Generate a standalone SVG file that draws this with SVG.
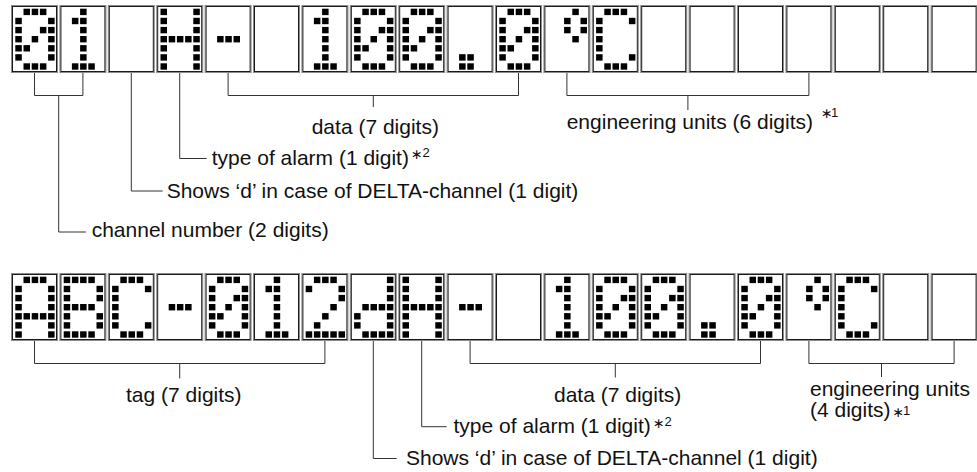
<svg xmlns="http://www.w3.org/2000/svg" xmlns:xlink="http://www.w3.org/1999/xlink" width="977" height="472" viewBox="0 0 977 472">
<style>
text{font-family:"Liberation Sans",Arial,Helvetica,sans-serif;font-size:21px;fill:#111}
.sup{font-size:13px}
.ast{font-family:"DejaVu Sans","Liberation Sans",sans-serif;font-size:14px}
.c{fill:none;stroke:#333;stroke-width:1}
</style>
<defs>
<rect id="p" width="6.5" height="6.4" fill="#000"/>
<g id="frame"><rect x="0.5" y="0.5" width="46" height="67" fill="#fff" stroke="#8c8c8c"/><rect x="1.5" y="1.5" width="44" height="65" fill="none" stroke="#1a1a1a"/></g>
<g id="g0"><use href="#p" x="12.5" y="3.7"/><use href="#p" x="20.7" y="3.7"/><use href="#p" x="28.9" y="3.7"/><use href="#p" x="4.3" y="12.8"/><use href="#p" x="37.1" y="12.8"/><use href="#p" x="4.3" y="21.9"/><use href="#p" x="28.9" y="21.9"/><use href="#p" x="37.1" y="21.9"/><use href="#p" x="4.3" y="31"/><use href="#p" x="20.7" y="31"/><use href="#p" x="37.1" y="31"/><use href="#p" x="4.3" y="40.1"/><use href="#p" x="12.5" y="40.1"/><use href="#p" x="37.1" y="40.1"/><use href="#p" x="4.3" y="49.2"/><use href="#p" x="37.1" y="49.2"/><use href="#p" x="12.5" y="58.3"/><use href="#p" x="20.7" y="58.3"/><use href="#p" x="28.9" y="58.3"/></g>
<g id="g1"><use href="#p" x="20.7" y="3.7"/><use href="#p" x="12.5" y="12.8"/><use href="#p" x="20.7" y="12.8"/><use href="#p" x="20.7" y="21.9"/><use href="#p" x="20.7" y="31"/><use href="#p" x="20.7" y="40.1"/><use href="#p" x="20.7" y="49.2"/><use href="#p" x="12.5" y="58.3"/><use href="#p" x="20.7" y="58.3"/><use href="#p" x="28.9" y="58.3"/></g>
<g id="g2"><use href="#p" x="12.5" y="3.7"/><use href="#p" x="20.7" y="3.7"/><use href="#p" x="28.9" y="3.7"/><use href="#p" x="4.3" y="12.8"/><use href="#p" x="37.1" y="12.8"/><use href="#p" x="37.1" y="21.9"/><use href="#p" x="28.9" y="31"/><use href="#p" x="20.7" y="40.1"/><use href="#p" x="12.5" y="49.2"/><use href="#p" x="4.3" y="58.3"/><use href="#p" x="12.5" y="58.3"/><use href="#p" x="20.7" y="58.3"/><use href="#p" x="28.9" y="58.3"/><use href="#p" x="37.1" y="58.3"/></g>
<g id="gH"><use href="#p" x="4.3" y="3.7"/><use href="#p" x="37.1" y="3.7"/><use href="#p" x="4.3" y="12.8"/><use href="#p" x="37.1" y="12.8"/><use href="#p" x="4.3" y="21.9"/><use href="#p" x="37.1" y="21.9"/><use href="#p" x="4.3" y="31"/><use href="#p" x="12.5" y="31"/><use href="#p" x="20.7" y="31"/><use href="#p" x="28.9" y="31"/><use href="#p" x="37.1" y="31"/><use href="#p" x="4.3" y="40.1"/><use href="#p" x="37.1" y="40.1"/><use href="#p" x="4.3" y="49.2"/><use href="#p" x="37.1" y="49.2"/><use href="#p" x="4.3" y="58.3"/><use href="#p" x="37.1" y="58.3"/></g>
<g id="gm"><use href="#p" x="12.5" y="31"/><use href="#p" x="20.7" y="31"/><use href="#p" x="28.9" y="31"/></g>
<g id="gdot"><use href="#p" x="12.5" y="49.2"/><use href="#p" x="20.7" y="49.2"/><use href="#p" x="12.5" y="58.3"/><use href="#p" x="20.7" y="58.3"/></g>
<g id="gdeg"><use href="#p" x="28.9" y="3.7"/><use href="#p" x="20.7" y="12.8"/><use href="#p" x="37.1" y="12.8"/><use href="#p" x="20.7" y="21.9"/><use href="#p" x="37.1" y="21.9"/><use href="#p" x="28.9" y="31"/></g>
<g id="gC"><use href="#p" x="12.5" y="3.7"/><use href="#p" x="20.7" y="3.7"/><use href="#p" x="28.9" y="3.7"/><use href="#p" x="4.3" y="12.8"/><use href="#p" x="37.1" y="12.8"/><use href="#p" x="4.3" y="21.9"/><use href="#p" x="4.3" y="31"/><use href="#p" x="4.3" y="40.1"/><use href="#p" x="4.3" y="49.2"/><use href="#p" x="37.1" y="49.2"/><use href="#p" x="12.5" y="58.3"/><use href="#p" x="20.7" y="58.3"/><use href="#p" x="28.9" y="58.3"/></g>
<g id="gA"><use href="#p" x="12.5" y="3.7"/><use href="#p" x="20.7" y="3.7"/><use href="#p" x="28.9" y="3.7"/><use href="#p" x="4.3" y="12.8"/><use href="#p" x="37.1" y="12.8"/><use href="#p" x="4.3" y="21.9"/><use href="#p" x="37.1" y="21.9"/><use href="#p" x="4.3" y="31"/><use href="#p" x="37.1" y="31"/><use href="#p" x="4.3" y="40.1"/><use href="#p" x="12.5" y="40.1"/><use href="#p" x="20.7" y="40.1"/><use href="#p" x="28.9" y="40.1"/><use href="#p" x="37.1" y="40.1"/><use href="#p" x="4.3" y="49.2"/><use href="#p" x="37.1" y="49.2"/><use href="#p" x="4.3" y="58.3"/><use href="#p" x="37.1" y="58.3"/></g>
<g id="gB"><use href="#p" x="4.3" y="3.7"/><use href="#p" x="12.5" y="3.7"/><use href="#p" x="20.7" y="3.7"/><use href="#p" x="28.9" y="3.7"/><use href="#p" x="4.3" y="12.8"/><use href="#p" x="37.1" y="12.8"/><use href="#p" x="4.3" y="21.9"/><use href="#p" x="37.1" y="21.9"/><use href="#p" x="4.3" y="31"/><use href="#p" x="12.5" y="31"/><use href="#p" x="20.7" y="31"/><use href="#p" x="28.9" y="31"/><use href="#p" x="4.3" y="40.1"/><use href="#p" x="37.1" y="40.1"/><use href="#p" x="4.3" y="49.2"/><use href="#p" x="37.1" y="49.2"/><use href="#p" x="4.3" y="58.3"/><use href="#p" x="12.5" y="58.3"/><use href="#p" x="20.7" y="58.3"/><use href="#p" x="28.9" y="58.3"/></g>
<g id="gd"><use href="#p" x="37.1" y="3.7"/><use href="#p" x="37.1" y="12.8"/><use href="#p" x="37.1" y="21.9"/><use href="#p" x="12.5" y="31"/><use href="#p" x="20.7" y="31"/><use href="#p" x="28.9" y="31"/><use href="#p" x="37.1" y="31"/><use href="#p" x="4.3" y="40.1"/><use href="#p" x="37.1" y="40.1"/><use href="#p" x="4.3" y="49.2"/><use href="#p" x="37.1" y="49.2"/><use href="#p" x="12.5" y="58.3"/><use href="#p" x="20.7" y="58.3"/><use href="#p" x="28.9" y="58.3"/><use href="#p" x="37.1" y="58.3"/></g>
</defs>
<rect width="977" height="472" fill="#fff"/>

<g id="top-row">
<g id="t00" transform="translate(11,5)"><use href="#frame"/><use href="#g0"/></g>
<g id="t01" transform="translate(59.4,5)"><use href="#frame"/><use href="#g1"/></g>
<g id="t02" transform="translate(107.8,5)"><use href="#frame"/></g>
<g id="t03" transform="translate(156.2,5)"><use href="#frame"/><use href="#gH"/></g>
<g id="t04" transform="translate(204.6,5)"><use href="#frame"/><use href="#gm"/></g>
<g id="t05" transform="translate(253,5)"><use href="#frame"/></g>
<g id="t06" transform="translate(301.4,5)"><use href="#frame"/><use href="#g1"/></g>
<g id="t07" transform="translate(349.8,5)"><use href="#frame"/><use href="#g0"/></g>
<g id="t08" transform="translate(398.2,5)"><use href="#frame"/><use href="#g0"/></g>
<g id="t09" transform="translate(446.6,5)"><use href="#frame"/><use href="#gdot"/></g>
<g id="t10" transform="translate(495,5)"><use href="#frame"/><use href="#g0"/></g>
<g id="t11" transform="translate(543.4,5)"><use href="#frame"/><use href="#gdeg"/></g>
<g id="t12" transform="translate(591.8,5)"><use href="#frame"/><use href="#gC"/></g>
<g id="t13" transform="translate(640.2,5)"><use href="#frame"/></g>
<g id="t14" transform="translate(688.6,5)"><use href="#frame"/></g>
<g id="t15" transform="translate(737,5)"><use href="#frame"/></g>
<g id="t16" transform="translate(785.4,5)"><use href="#frame"/></g>
<g id="t17" transform="translate(833.8,5)"><use href="#frame"/></g>
<g id="t18" transform="translate(882.2,5)"><use href="#frame"/></g>
<g id="t19" transform="translate(930.6,5)"><use href="#frame"/></g>
</g>

<g id="bottom-row">
<g id="b00" transform="translate(11,273)"><use href="#frame"/><use href="#gA"/></g>
<g id="b01" transform="translate(59.4,273)"><use href="#frame"/><use href="#gB"/></g>
<g id="b02" transform="translate(107.8,273)"><use href="#frame"/><use href="#gC"/></g>
<g id="b03" transform="translate(156.2,273)"><use href="#frame"/><use href="#gm"/></g>
<g id="b04" transform="translate(204.6,273)"><use href="#frame"/><use href="#g0"/></g>
<g id="b05" transform="translate(253,273)"><use href="#frame"/><use href="#g1"/></g>
<g id="b06" transform="translate(301.4,273)"><use href="#frame"/><use href="#g2"/></g>
<g id="b07" transform="translate(349.8,273)"><use href="#frame"/><use href="#gd"/></g>
<g id="b08" transform="translate(398.2,273)"><use href="#frame"/><use href="#gH"/></g>
<g id="b09" transform="translate(446.6,273)"><use href="#frame"/><use href="#gm"/></g>
<g id="b10" transform="translate(495,273)"><use href="#frame"/></g>
<g id="b11" transform="translate(543.4,273)"><use href="#frame"/><use href="#g1"/></g>
<g id="b12" transform="translate(591.8,273)"><use href="#frame"/><use href="#g0"/></g>
<g id="b13" transform="translate(640.2,273)"><use href="#frame"/><use href="#g0"/></g>
<g id="b14" transform="translate(688.6,273)"><use href="#frame"/><use href="#gdot"/></g>
<g id="b15" transform="translate(737,273)"><use href="#frame"/><use href="#g0"/></g>
<g id="b16" transform="translate(785.4,273)"><use href="#frame"/><use href="#gdeg"/></g>
<g id="b17" transform="translate(833.8,273)"><use href="#frame"/><use href="#gC"/></g>
<g id="b18" transform="translate(882.2,273)"><use href="#frame"/></g>
<g id="b19" transform="translate(930.6,273)"><use href="#frame"/></g>
</g>

<g id="connectors" class="c">
<path d="M34.5 73V95.5H82.9V73M58.7 95.5V232H86"/>
<path d="M131.3 73V191H162.7"/>
<path d="M179.7 73V158.5H206.7"/>
<path d="M228.1 73V95.5H518.5V73M373.3 95.5V107"/>
<path d="M566.9 73V95.5H808.9V73M687.9 95.5V110"/>
<path d="M34.5 341V363.5H324.9V341M179.7 363.5V378.5"/>
<path d="M373.3 341V458.5H396.7"/>
<path d="M421.7 341V426.7H446.7"/>
<path d="M470.1 341V363.5H760.5V341M615.3 363.5V377.5"/>
<path d="M808.9 341V363.5H954.1V341M881.5 363.5V377"/>
</g>

<g id="labels">
<text x="311.7" y="133.5">data (7 digits)</text>
<text x="566.7" y="129">engineering units (6 digits) <tspan class="ast" x="821" y="118">∗</tspan><tspan class="sup" x="831" y="117">1</tspan></text>
<text x="211.7" y="165">type of alarm (1 digit)<tspan class="ast" x="411" y="158.5">∗</tspan><tspan class="sup" x="422.5" y="157">2</tspan></text>
<text x="166.7" y="198">Shows ‘d’ in case of DELTA-channel (1 digit)</text>
<text x="91.7" y="237">channel number (2 digits)</text>
<text x="126" y="401.5">tag (7 digits)</text>
<text x="554" y="401.5">data (7 digits)</text>
<text x="810" y="395.5">engineering units</text>
<text x="810" y="417">(4 digits)<tspan class="ast" x="892.5" y="417">∗</tspan><tspan class="sup" x="903" y="415">1</tspan></text>
<text x="453.5" y="433.3">type of alarm (1 digit)<tspan class="ast" x="653" y="428">∗</tspan><tspan class="sup" x="664.5" y="426">2</tspan></text>
<text x="406" y="465">Shows ‘d’ in case of DELTA-channel (1 digit)</text>
</g>
</svg>
